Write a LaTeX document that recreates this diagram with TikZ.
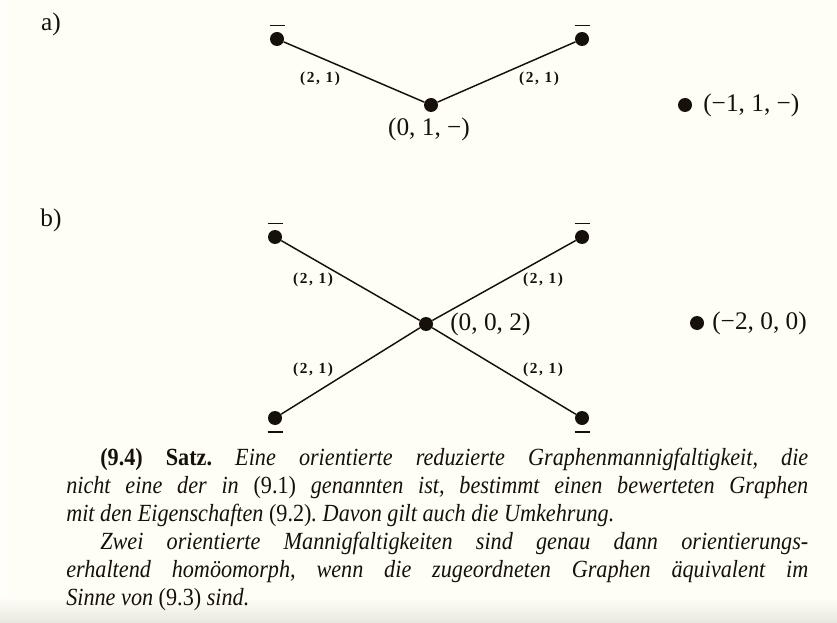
\documentclass[tikz,border=0pt]{standalone}
\usepackage{fontspec}
\setmainfont{Liberation Serif}
\newfontfamily\edgefont[LetterSpace=11]{Liberation Serif}
\newfontfamily\bodyfont[FakeStretch=0.9]{Liberation Serif}
\usetikzlibrary{calc}
\definecolor{paper}{RGB}{255,254,246}
\definecolor{ink}{RGB}{22,16,10}

\begin{document}
\begin{tikzpicture}[x=0.75pt,y=-0.75pt,
  vertex/.style={circle,fill=ink,inner sep=0pt,minimum size=10.5pt},
  link/.style={draw=ink,line width=1.1pt},
  minusbar/.style={draw=ink,line width=1.4pt},
  lab/.style={text=ink,inner sep=0pt,font=\fontsize{19}{22}\selectfont},
  wlabel/.style={text=ink,inner sep=0pt,font=\edgefont\bfseries\fontsize{11.5}{13}\selectfont},
  bodytext/.style={text=ink,inner sep=0pt,anchor=north west,text width=556.5pt,
    align=justify,font=\bodyfont\fontsize{18.5}{21}\selectfont\frenchspacing}]
  % paper
  \fill[paper] (0,0) rectangle (837,623);
  \fill[white!60!paper] (0,0) rectangle (7,623);
  \shade[top color=paper,bottom color={rgb,255:red,232;green,230;blue,222}]
    (0,598) rectangle (837,623);
  \useasboundingbox (0,0) rectangle (837,623);
  % part a
  \node[lab] (pa) at (51,24) {a)};
  \node[vertex] (a1) at (277,39) {};
  \node[vertex] (a0) at (431,105) {};
  \node[vertex] (a2) at (582,39) {};
  \node[vertex] (a3) at (685,105) {};
  \draw[link] (a1) -- (a0) -- (a2);
  \draw[minusbar] ($(a1)+(-7.5,-13.5)$) -- ++(15,0);
  \draw[minusbar] ($(a2)+(-7.5,-13.5)$) -- ++(15,0);
  \node[wlabel] (wa1) at (320,79) {(2, 1)};
  \node[wlabel] (wa2) at (539,79) {(2, 1)};
  \node[lab] (ta0) at (429,129) {(0, 1, −)};
  \node[lab,anchor=west] (ta3) at (703,105) {(−1, 1, −)};
  % part b
  \node[lab] (pb) at (51,220) {b)};
  \node[vertex] (b0) at (426,324) {};
  \node[vertex] (b1) at (275,237) {};
  \node[vertex] (b2) at (582,237) {};
  \node[vertex] (b3) at (275,418) {};
  \node[vertex] (b4) at (582,418) {};
  \node[vertex] (b5) at (697,323) {};
  \foreach \v in {b1,b2,b3,b4}
    \draw[link] (b0) -- (\v);
  \draw[minusbar] ($(b1)+(-7.5,-13.5)$) -- ++(15,0);
  \draw[minusbar] ($(b2)+(-7.5,-13.5)$) -- ++(15,0);
  \draw[minusbar] ($(b3)+(-7.5,14)$) -- ++(15,0);
  \draw[minusbar] ($(b4)+(-7.5,14)$) -- ++(15,0);
  \node[wlabel] (wb1) at (313,280) {(2, 1)};
  \node[wlabel] (wb2) at (543,280) {(2, 1)};
  \node[wlabel] (wb3) at (313,370) {(2, 1)};
  \node[wlabel] (wb4) at (543,370) {(2, 1)};
  \node[lab,anchor=west] (tb0) at (450,324) {(0, 0, 2)};
  \node[lab,anchor=west] (tb5) at (712,323) {(−2, 0, 0)};
  % theorem text
  \node[bodytext] (satz) at (66,448) {\tolerance=9999\hyphenpenalty=10000
    \hspace*{25.5pt}\textbf{(9.4) Satz.} \textit{Eine orientierte reduzierte
    Graphenmannigfaltigkeit, die\linebreak nicht eine der in \textup{(9.1)}
    genannten ist, bestimmt einen bewerteten Graphen\linebreak mit den
    Eigenschaften \textup{(9.2)}. Davon gilt auch die Umkehrung.}\par
    \hspace*{25.5pt}\textit{Zwei orientierte Mannigfaltigkeiten sind genau dann
    orientierungs-\linebreak erhaltend homöomorph, wenn die zugeordneten
    Graphen äquivalent im\linebreak Sinne von \textup{(9.3)} sind.}};
\end{tikzpicture}
\end{document}
